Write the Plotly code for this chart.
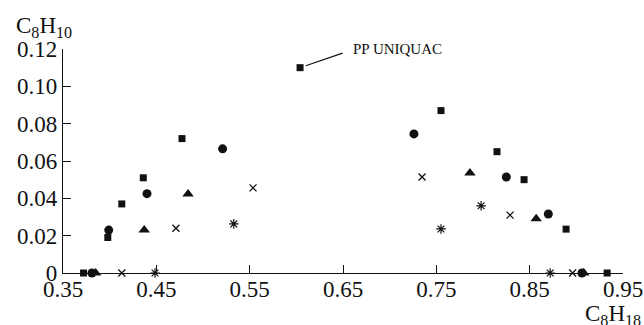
import plotly.graph_objects as go

# Data (C8H18 mole fraction vs C8H10 mole fraction)
sq_x = [0.372, 0.398, 0.413, 0.436, 0.4775, 0.604, 0.755, 0.815, 0.844, 0.889, 0.933]
sq_y = [0.0, 0.019, 0.037, 0.051, 0.072, 0.110, 0.087, 0.065, 0.050, 0.0235, 0.0]

ci_x = [0.381, 0.399, 0.440, 0.521, 0.726, 0.825, 0.870, 0.906]
ci_y = [0.0, 0.023, 0.0425, 0.0665, 0.0745, 0.0514, 0.0316, 0.0]

tr_x = [0.385, 0.437, 0.484, 0.786, 0.857, 0.908]
tr_y = [0.0, 0.023, 0.0423, 0.0536, 0.029, 0.0]

cr_x = [0.413, 0.471, 0.5536, 0.7347, 0.829, 0.896]
cr_y = [0.0, 0.024, 0.0456, 0.0514, 0.031, 0.0]

as_x = [0.4486, 0.533, 0.755, 0.798, 0.872]
as_y = [0.0, 0.0263, 0.0236, 0.036, 0.0]

x_ticks = [0.35, 0.45, 0.55, 0.65, 0.75, 0.85, 0.95]
x_ticktext = ["0.35", "0.45", "0.55", "0.65", "0.75", "0.85", "0.95"]
y_ticks = [0, 0.02, 0.04, 0.06, 0.08, 0.10, 0.12]
y_ticktext = ["0", "0.02", "0.04", "0.06", "0.08", "0.10", "0.12"]

INK = "#111111"
FONT = "Liberation Serif"

fig = go.Figure()

def add(x, y, symbol, size, lw=0):
    fig.add_trace(go.Scatter(
        x=x, y=y, mode="markers", cliponaxis=False, showlegend=False,
        marker=dict(symbol=symbol, size=size, color=INK,
                    line=dict(width=lw, color=INK)),
    ))

add(sq_x, sq_y, "square", 7)
add(ci_x, ci_y, "circle", 9)
add(tr_x, tr_y, "triangle-up", 10)
add(cr_x, cr_y, "x-thin", 7, 1.3)
add(as_x, as_y, "asterisk", 8, 1.2)

fig.update_layout(
    width=644, height=325,
    margin=dict(l=63, r=21, t=49, b=52),
    paper_bgcolor="white", plot_bgcolor="white",
    font=dict(family=FONT, size=23, color=INK),
    xaxis=dict(range=[0.35, 0.95], tickvals=x_ticks, ticktext=x_ticktext,
               showgrid=False, zeroline=False, showline=True, linecolor=INK,
               linewidth=1.3, ticks="inside", ticklen=8, tickcolor=INK,
               tickwidth=1.2, ticklabelstandoff=-5, automargin=False,
               tickfont=dict(family=FONT, size=23, color=INK)),
    yaxis=dict(range=[0, 0.12], tickvals=y_ticks, ticktext=y_ticktext,
               showgrid=False, zeroline=False, showline=True, linecolor=INK,
               linewidth=1.3, ticks="inside", ticklen=8, tickcolor=INK,
               tickwidth=1.2, automargin=False,
               tickfont=dict(family=FONT, size=23, color=INK)),
    annotations=[
        dict(xref="paper", yref="paper", x=-0.088, y=1.025, xanchor="left",
             yanchor="bottom", showarrow=False,
             text="C<sub>8</sub>H<sub>10</sub>",
             font=dict(family=FONT, size=23, color=INK)),
        dict(xref="paper", yref="paper", x=1.035, y=-0.118, xanchor="right",
             yanchor="top", showarrow=False,
             text="C<sub>8</sub>H<sub>18</sub>",
             font=dict(family=FONT, size=23, color=INK)),
        dict(x=sq_x[5], y=sq_y[5], xref="x", yref="y", text="PP UNIQUAC",
             showarrow=False, xanchor="left", yanchor="middle",
             xshift=51, yshift=19,
             font=dict(family=FONT, size=15, color=INK)),
        dict(x=sq_x[5], y=sq_y[5], xref="x", yref="y", text="",
             showarrow=True, arrowhead=0, arrowwidth=1.2, arrowcolor=INK,
             ax=44, ay=-15, standoff=6),
    ],
)

fig.write_html("out.html", config={"displayModeBar": False},
               post_script="document.body.style.margin='0';")
